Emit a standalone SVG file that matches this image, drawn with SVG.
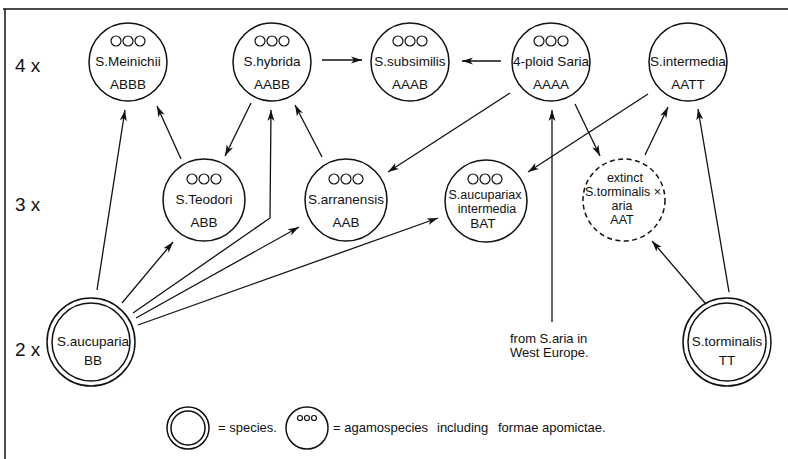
<svg xmlns="http://www.w3.org/2000/svg" width="788" height="459" viewBox="0 0 788 459">
<style>
text{font-family:"Liberation Sans",Arial,sans-serif;font-size:13.5px;fill:#111;text-anchor:middle}
.sm{font-size:12.5px}
.lab{font-size:19px;text-anchor:start}
.leg{font-size:13px;text-anchor:start}
.c{fill:none;stroke:#111;stroke-width:1.5}
.d{fill:none;stroke:#111;stroke-width:1.5;stroke-dasharray:5 3.5}
.o{fill:none;stroke:#111;stroke-width:1.2}
.e{fill:none;stroke:#111;stroke-width:1.3;marker-end:url(#ah)}
</style>
<defs>
<marker id="ah" markerUnits="userSpaceOnUse" markerWidth="12" markerHeight="8" refX="11" refY="4" orient="auto">
<path d="M0,0.5 L11,4 L0,7.5 L3,4 z" fill="#111"/>
</marker>
<g id="ooo"><circle cx="-12" cy="0" r="5" class="o"/><circle cx="0" cy="0" r="5" class="o"/><circle cx="12" cy="0" r="5" class="o"/></g>
</defs>
<rect width="788" height="459" fill="#fff"/>
<g id="frame" stroke="#111" stroke-width="1.5">
<line x1="3" y1="9" x2="788" y2="9"/>
<line x1="5" y1="9" x2="5" y2="459"/>
</g>
<g id="rowlabels">
<text class="lab" x="15" y="72">4 x</text>
<text class="lab" x="15" y="211">3 x</text>
<text class="lab" x="15" y="356">2 x</text>
</g>
<g id="connectors">
<line class="e" x1="322" y1="60" x2="362" y2="60"/>
<line class="e" x1="501" y1="61" x2="462" y2="61"/>
<line class="e" x1="97" y1="290" x2="125" y2="110"/>
<line class="e" x1="181" y1="159" x2="157" y2="106"/>
<line class="e" x1="251" y1="103" x2="225" y2="156"/>
<polyline class="e" points="133,313 270,218 271,110"/>
<line class="e" x1="322" y1="157" x2="295" y2="105"/>
<line class="e" x1="510" y1="93" x2="388" y2="172"/>
<line class="e" x1="648" y1="94" x2="528" y2="172"/>
<line class="e" x1="552" y1="322" x2="552" y2="110"/>
<line class="e" x1="575" y1="104" x2="600" y2="156"/>
<line class="e" x1="645" y1="155" x2="668" y2="107"/>
<line class="e" x1="729" y1="292" x2="698" y2="109"/>
<line class="e" x1="705" y1="303" x2="652" y2="241"/>
<line class="e" x1="122" y1="303" x2="173" y2="242"/>
<line class="e" x1="136" y1="318" x2="299" y2="227"/>
<line class="e" x1="138" y1="325" x2="438" y2="218"/>
</g>
<g id="meinichii">
<circle class="c" cx="128" cy="62" r="39"/>
<use href="#ooo" x="128" y="41"/>
<text x="128" y="66">S.Meinichii</text>
<text x="128" y="89">ABBB</text>
</g>
<g id="hybrida">
<circle class="c" cx="272" cy="62" r="39"/>
<use href="#ooo" x="272" y="41"/>
<text x="272" y="66">S.hybrida</text>
<text x="272" y="89">AABB</text>
</g>
<g id="subsimilis">
<circle class="c" cx="410" cy="62" r="39"/>
<use href="#ooo" x="410" y="41"/>
<text x="410" y="66">S.subsimilis</text>
<text x="410" y="89">AAAB</text>
</g>
<g id="saria4">
<circle class="c" cx="551" cy="62" r="39"/>
<use href="#ooo" x="551" y="41"/>
<text x="551" y="66">4-ploid Saria</text>
<text x="551" y="89">AAAA</text>
</g>
<g id="intermedia">
<circle class="c" cx="688" cy="62" r="39"/>
<text x="688" y="66">S.intermedia</text>
<text x="688" y="89">AATT</text>
</g>
<g id="teodori">
<circle class="c" cx="204" cy="200" r="41"/>
<use href="#ooo" x="204" y="179"/>
<text x="204" y="204">S.Teodori</text>
<text x="204" y="227">ABB</text>
</g>
<g id="arranensis">
<circle class="c" cx="346" cy="200" r="41"/>
<use href="#ooo" x="346" y="179"/>
<text x="346" y="204">S.arranensis</text>
<text x="346" y="227">AAB</text>
</g>
<g id="aucxint">
<circle class="c" cx="486" cy="201" r="41"/>
<use href="#ooo" x="485" y="179"/>
<text class="sm" x="485" y="199">S.aucupariax</text>
<text class="sm" x="487" y="213">intermedia</text>
<text x="483" y="228">BAT</text>
</g>
<g id="extinct">
<circle class="d" cx="624" cy="200" r="41"/>
<text class="sm" x="625" y="182">extinct</text>
<text class="sm" x="623" y="196">S.torminalis ×</text>
<text class="sm" x="622" y="210">aria</text>
<text class="sm" x="622" y="224">AAT</text>
</g>
<g id="aucuparia">
<circle class="c" cx="91" cy="342" r="44"/>
<circle class="c" cx="91" cy="342" r="39"/>
<text x="93" y="346">S.aucuparia</text>
<text x="93" y="365">BB</text>
</g>
<g id="torminalis">
<circle class="c" cx="727" cy="342" r="44"/>
<circle class="c" cx="727" cy="342" r="39"/>
<text x="727" y="346">S.torminalis</text>
<text x="727" y="365">TT</text>
</g>
<g id="note">
<text class="leg" x="510" y="343">from S.aria in</text>
<text class="leg" x="510" y="357">West Europe.</text>
</g>
<g id="legend">
<circle class="c" cx="188" cy="428" r="21"/>
<circle class="c" cx="188" cy="428" r="17"/>
<text class="leg" x="218" y="432">= species.</text>
<circle class="c" cx="307" cy="428" r="21"/>
<circle class="o" cx="300" cy="418" r="2.5"/>
<circle class="o" cx="307" cy="418" r="2.5"/>
<circle class="o" cx="314" cy="418" r="2.5"/>
<text class="leg" x="333" y="432">= agamospecies</text>
<text class="leg" x="437" y="432">including</text>
<text class="leg" x="498" y="432">formae apomictae.</text>
</g>
</svg>
